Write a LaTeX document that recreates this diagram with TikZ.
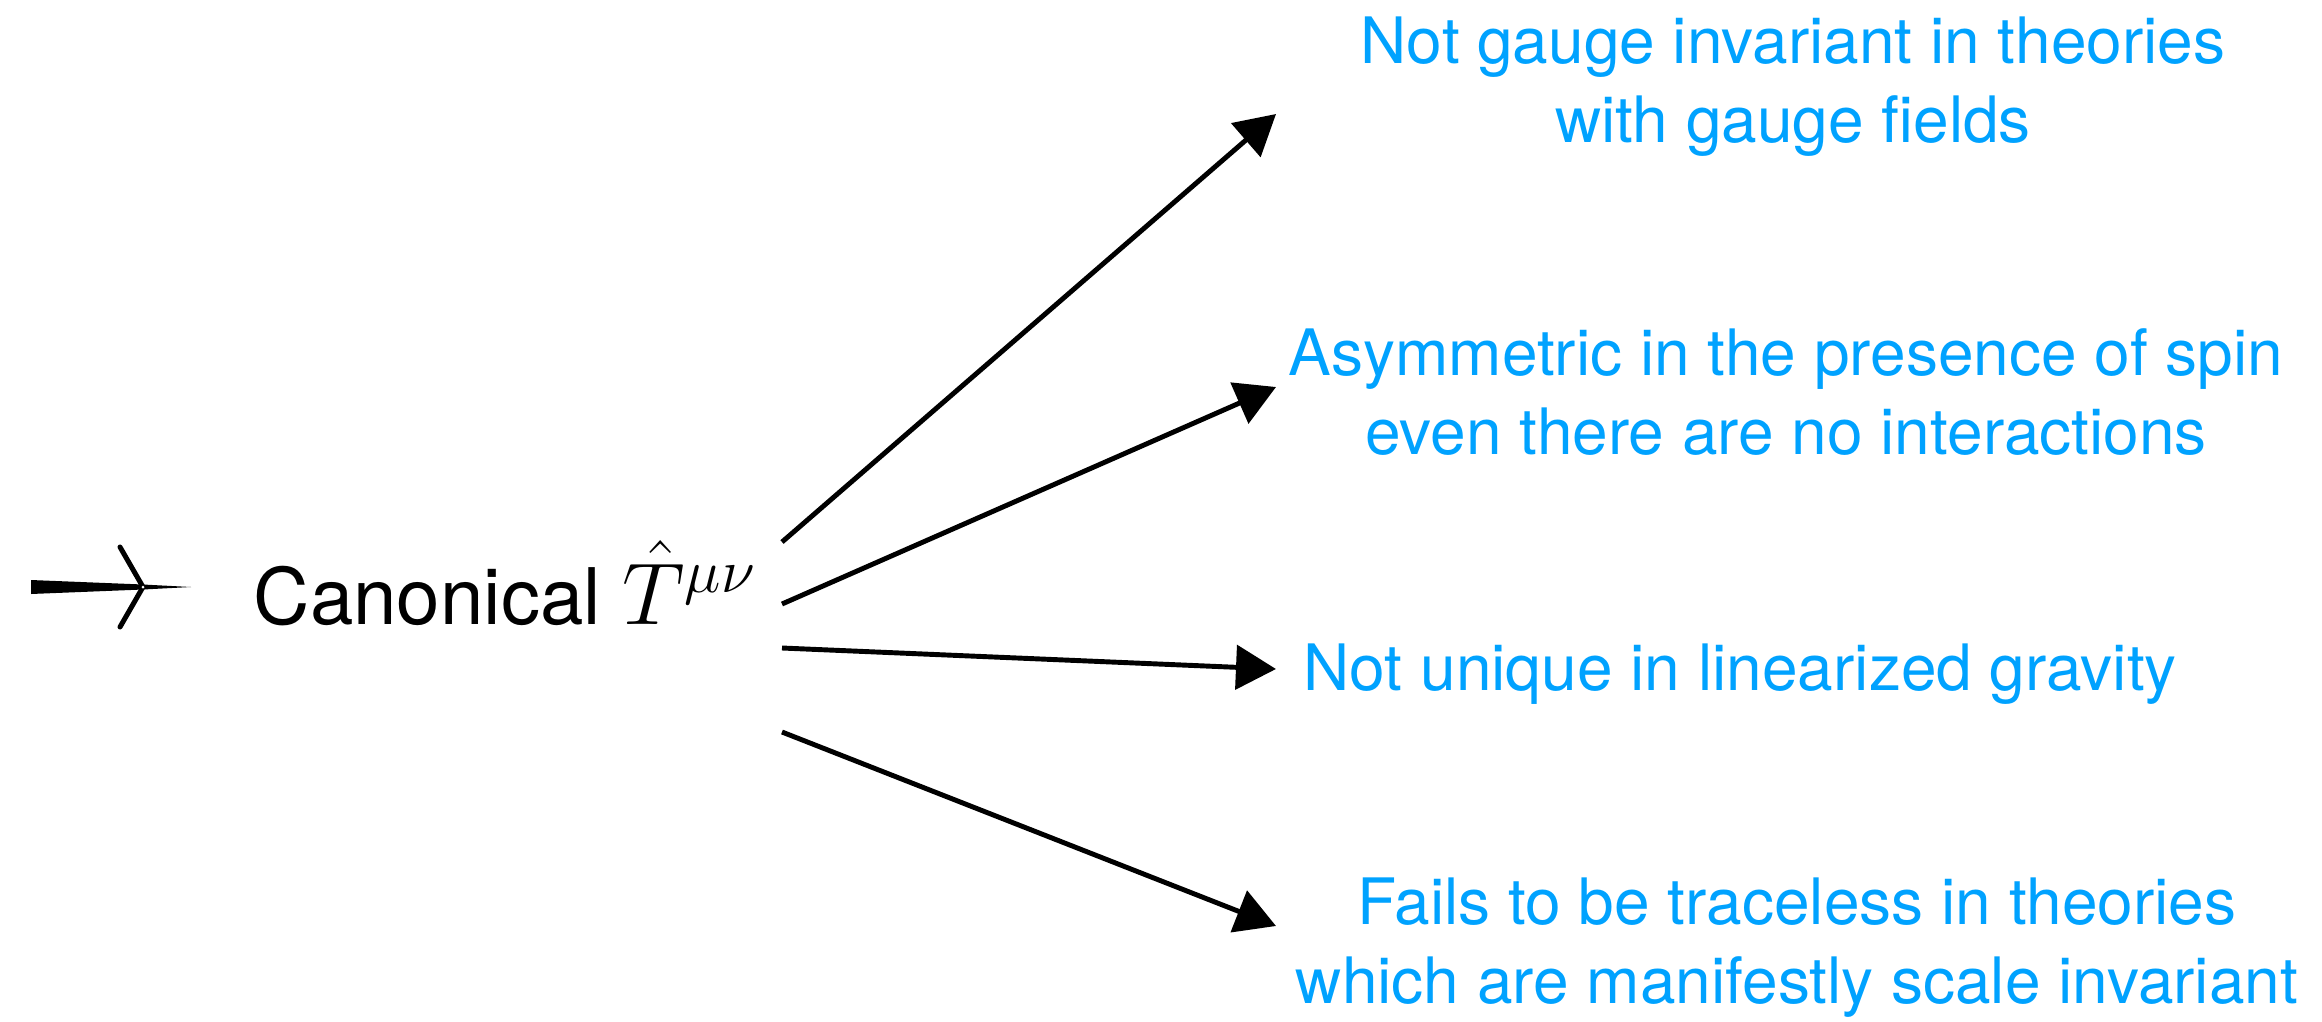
\RequirePackage{fix-cm}
\documentclass[tikz,border=0pt]{standalone}
\usepackage{fontspec}
\setmainfont{TeX Gyre Heros}
\usetikzlibrary{arrows.meta}
\definecolor{noteblue}{RGB}{0,162,255}

\begin{document}
\begin{tikzpicture}[
    x=0.01cm, y=-0.01cm,
    every node/.style={inner sep=0pt},
    mainlabel/.style={anchor=base west, font=\fontsize{22.2}{26}\selectfont},
    notebox/.style={anchor=base, align=center, text=noteblue, font=\fontsize{18.2}{22.4}\selectfont},
    arrow/.style={-{Triangle[length=0.4cm, width=0.44cm]}, line width=1.4pt}
]
    \useasboundingbox (0,0) rectangle (2322,1021);

    % Marker in front of the label
    \coordinate (pivot) at (143,587);
    \fill (31,580) -- (143,584.5) -- (191,587) -- (143,589.5) -- (31,594) -- cycle;
    \draw [line width=0.05cm, line cap=round] (pivot) -- (120,547);
    \draw [line width=0.05cm, line cap=round] (pivot) -- (120,627);
    \fill [white] (pivot) circle (1.5);

    % Main label
    \node (canon) [mainlabel] at (253,624) {Canonical {\fontsize{25}{30}\selectfont$\hat{T}^{\mu\nu}$}};

    % Notes on the right (base = last line)
    \node (gauge) [notebox] at (1793,142) {Not gauge invariant in theories\\with gauge fields};
    \node (spin) [notebox] at (1786,454) {Asymmetric in the presence of spin\\even there are no interactions};
    \node (gravity) [notebox, anchor=base west] at (1303,690) {Not unique in linearized gravity};
    \node (trace) [notebox] at (1797,1003) {Fails to be traceless in theories\\which are manifestly scale invariant};

    % Arrow ends
    \coordinate (tail1) at (782,542);
    \coordinate (tail2) at (782,604);
    \coordinate (tail3) at (782,648);
    \coordinate (tail4) at (782,732);
    \coordinate (tip1) at (1276,114);
    \coordinate (tip2) at (1276,387);
    \coordinate (tip3) at (1276,669);
    \coordinate (tip4) at (1276,926);

    % Arrows from the label to the notes
    \draw [arrow] (tail1) -- (tip1);
    \draw [arrow] (tail2) -- (tip2);
    \draw [arrow] (tail3) -- (tip3);
    \draw [arrow] (tail4) -- (tip4);

\end{tikzpicture}
\end{document}
